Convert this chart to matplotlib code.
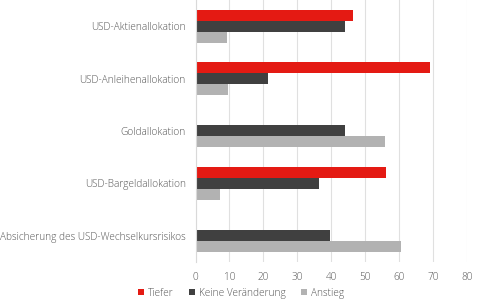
import numpy as np
import matplotlib.pyplot as plt

categories = [
    "USD-Aktienallokation",
    "USD-Anleihenallokation",
    "Goldallokation",
    "USD-Bargeldallokation",
    "Absicherung des USD-Wechselkursrisikos",
]
tiefer = [46.5, 69.0, 0.3, 56.1, 0.3]
keine = [44.1, 21.4, 44.1, 36.5, 39.5]
anstieg = [9.2, 9.5, 55.9, 7.2, 60.5]
x_ticks = [0, 10, 20, 30, 40, 50, 60, 70, 80]

plt.rcParams["font.family"] = ["Open Sans", "DejaVu Sans"]
plt.rcParams["font.weight"] = "light"
text_color = "#555555"

fig = plt.figure(figsize=(5, 3), dpi=100)
ax = fig.add_axes([0.391, 0.127, 0.543, 0.873])

y = np.arange(len(categories))
h = 0.21
ax.barh(y - h, tiefer, height=h, color="#e41a13", label="Tiefer")
ax.barh(y, keine, height=h, color="#404040", label="Keine Veränderung")
ax.barh(y + h, anstieg, height=h, color="#b2b2b2", label="Anstieg")

ax.set_xlim(0, 80)
ax.set_ylim(len(categories) - 0.5, -0.5)
ax.set_xticks(x_ticks)
ax.set_yticks(y)
ax.set_yticklabels(categories)
ax.grid(axis="x", color="#e0e0e0", linewidth=0.8)
ax.set_axisbelow(True)
for s in ["top", "right", "bottom"]:
    ax.spines[s].set_visible(False)
ax.spines["left"].set_color("#d9d9d9")
ax.tick_params(length=0, labelsize=7.2, colors=text_color, pad=7)

leg = fig.legend(loc="center", bbox_to_anchor=(0.482, 0.023), ncol=3,
                 frameon=False, fontsize=7.2, handlelength=0.6, handleheight=0.6,
                 handletextpad=0.4, columnspacing=1.5, borderpad=0)
for t in leg.get_texts():
    t.set_color(text_color)

fig.savefig("out.png", dpi=100)
